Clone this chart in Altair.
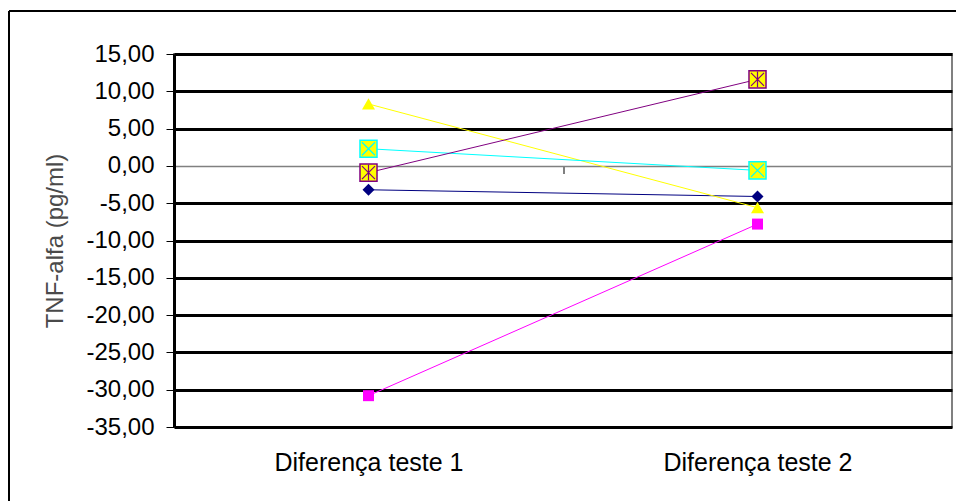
import altair as alt
import pandas as pd

# Categories on the x axis
categories = ["Diferença teste 1", "Diferença teste 2"]

# One list of values per series (TNF-alfa difference, pg/ml)
serie_1 = [-3.2, -4.1]
serie_2 = [-30.8, -7.8]
serie_3 = [8.3, -5.6]
serie_4 = [2.3, -0.6]
serie_5 = [-0.9, 11.6]

series_names = ["Série1", "Série2", "Série3", "Série4", "Série5"]
series_values = [serie_1, serie_2, serie_3, serie_4, serie_5]
series_colors = ["#000080", "#FF00FF", "#FFFF00", "#00FFFF", "#800080"]

# Y axis tick values
y_ticks = [-35, -30, -25, -20, -15, -10, -5, 0, 5, 10, 15]

rows = []
for name, vals in zip(series_names, series_values):
    for cat, v in zip(categories, vals):
        rows.append({"serie": name, "categoria": cat, "valor": v})
df = pd.DataFrame(rows)

FONT = "Liberation Sans"

x_enc = alt.X(
    "categoria:N",
    sort=categories,
    scale=alt.Scale(type="point", padding=0.5),
    axis=alt.Axis(
        title=None, domain=False, ticks=False, labelAngle=0,
        labelFont=FONT, labelFontSize=25, labelColor="#000000",
        labelPadding=23, labelLimit=0, grid=False,
    ),
)
y_enc = alt.Y(
    "valor:Q",
    scale=alt.Scale(domain=[-35, 15], nice=False, zero=False),
    axis=alt.Axis(
        title="TNF-alfa (pg/ml)",
        values=y_ticks,
        tickCount=len(y_ticks),
        labelExpr="replace(replace(format(datum.value, '.2f'), '.', ','), '\u2212', '-')",
        labelFont=FONT, labelFontSize=24, labelColor="#000000",
        labelPadding=12, labelOverlap=False, labelBound=False,
        tickSize=8, tickColor="#000000", tickWidth=1,
        domainColor="#000000", domainWidth=3,
        grid=True,
        gridColor={"condition": {"test": "datum.value === 0", "value": "#808080"}, "value": "#000000"},
        gridWidth={"condition": {"test": "datum.value === 0", "value": 1.5}, "value": 3},
        titleFont=FONT, titleFontSize=24, titleFontWeight="normal",
        titleColor="#4a4a4a", titlePadding=18,
    ),
)

color_scale = alt.Scale(domain=series_names, range=series_colors)

base = alt.Chart(df).encode(x=x_enc, y=y_enc)

lines = base.mark_line(strokeWidth=1).encode(
    color=alt.Color("serie:N", scale=color_scale, legend=None),
    detail="serie:N",
)

def only(name):
    return alt.datum.serie == name

diamonds = base.transform_filter(only("Série1")).mark_point(
    shape="diamond", filled=True, size=144, color="#000080", opacity=1
)
squares = base.transform_filter(only("Série2")).mark_point(
    shape="square", filled=True, size=121, color="#FF00FF", opacity=1
)
triangles = base.transform_filter(only("Série3")).mark_point(
    shape="triangle-up", filled=True, size=169, color="#FFFF00", opacity=1
)

x_path = "M-1,-1L1,1M-1,1L1,-1"
star_path = "M-1,-1L1,1M-1,1L1,-1M0,-1.2L0,1.2"

box4 = base.transform_filter(only("Série4")).mark_point(
    shape="square", filled=True, size=290, fill="#FFFF00",
    stroke="#00FFFF", strokeWidth=1.5, opacity=1
)
cross4 = base.transform_filter(only("Série4")).mark_point(
    shape=x_path, filled=False, size=169, stroke="#00FFFF", strokeWidth=1.2, opacity=1
)
box5 = base.transform_filter(only("Série5")).mark_point(
    shape="square", filled=True, size=290, fill="#FFFF00",
    stroke="#800080", strokeWidth=1.5, opacity=1
)
star5 = base.transform_filter(only("Série5")).mark_point(
    shape=star_path, filled=False, size=169, stroke="#800080", strokeWidth=1.2, opacity=1
)

# Small category tick hanging below the zero line between the two categories
mid_tick = alt.Chart(alt.Data(values=[{}])).mark_rule(
    color="#808080", strokeWidth=2, y2Offset=8
).encode(x=alt.value(390), y=alt.datum(0), y2=alt.datum(0))

# Chart-area frame (left and top edges)
frame_left = alt.Chart(alt.Data(values=[{}])).mark_rule(
    color="#000000", strokeWidth=2
).encode(x=alt.value(-165), y=alt.value(-43), y2=alt.value(460))
frame_top = alt.Chart(alt.Data(values=[{}])).mark_rule(
    color="#000000", strokeWidth=2
).encode(x=alt.value(-165), x2=alt.value(800), y=alt.value(-43))

chart = alt.layer(
    frame_left, frame_top, mid_tick, lines,
    diamonds, squares, triangles, box4, cross4, box5, star5,
).properties(
    width=778, height=373,
    autosize=alt.AutoSizeParams(type="none"),
    padding={"left": 174, "top": 54, "right": 4, "bottom": 74},
    background="#FFFFFF",
).configure_view(
    stroke="#808080", strokeWidth=2
)

chart.save("out.html", embed_options={"renderer": "svg", "actions": False})
